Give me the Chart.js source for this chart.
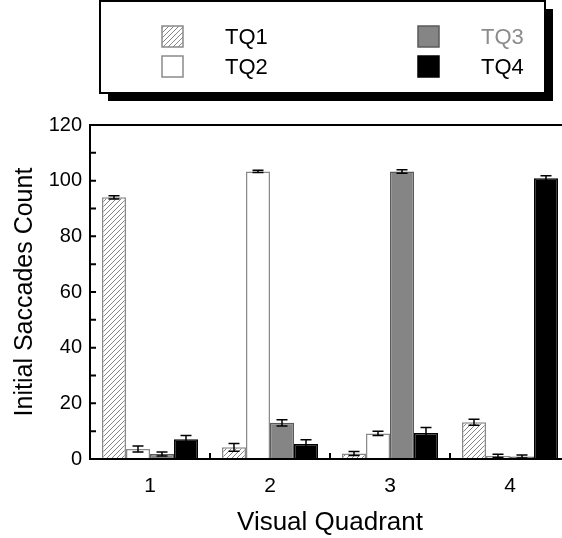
<!DOCTYPE html>
<html>
<head>
<meta charset="utf-8">
<script src="https://cdn.jsdelivr.net/npm/chart.js@4.4.1/dist/chart.umd.min.js"></script>
<style>
html, body { margin: 0; padding: 0; overflow: hidden; background: #fff; }
#wrap { width: 580px; height: 538px; }
</style>
</head>
<body>
<div id="wrap"><canvas id="chart"></canvas></div>
<script>
// data
const quadrants = ['1', '2', '3', '4'];
const seriesNames = ['TQ1', 'TQ2', 'TQ3', 'TQ4'];
const tq1 = [94.0, 4.2, 2.0, 13.2];
const tq2 = [3.6, 103.3, 9.2, 1.1];
const tq3 = [1.8, 13.0, 103.3, 0.9];
const tq4 = [7.1, 5.4, 9.3, 100.9];
const tq1Err = [0.6, 1.4, 0.7, 1.1];
const tq2Err = [1.1, 0.4, 0.8, 0.6];
const tq3Err = [0.7, 1.1, 0.6, 0.5];
const tq4Err = [1.3, 1.5, 2.0, 0.9];
const yMin = 0, yMax = 120, yStep = 10, yLabelStep = 20;

const FONT = "'Liberation Sans', Arial, Helvetica, sans-serif";
Chart.defaults.font.family = FONT;
Chart.defaults.color = '#000';

function hatch() {
    const c = document.createElement('canvas');
    c.width = 5; c.height = 5;
    const g = c.getContext('2d');
    g.fillStyle = '#fff';
    g.fillRect(0, 0, 5, 5);
    g.strokeStyle = '#777';
    g.lineWidth = 0.9;
    g.beginPath();
    g.moveTo(-1, 6); g.lineTo(6, -1);
    g.moveTo(-1, 1); g.lineTo(1, -1);
    g.moveTo(4, 6); g.lineTo(6, 4);
    g.stroke();
    return g.createPattern(c, 'repeat');
}

const fills = [hatch(), '#ffffff', '#858585', '#000000'];
const borders = ['#8a8a8a', '#8a8a8a', '#5a5a5a', '#000000'];
const legendText = ['#000', '#000', '#8c8c8c', '#000'];
const values = [tq1, tq2, tq3, tq4];
const errors = [tq1Err, tq2Err, tq3Err, tq4Err];

// error bars on top of each bar
const errorBars = {
    id: 'errorBars',
    afterDatasetsDraw(chart) {
        const ctx = chart.ctx;
        const y = chart.scales.y;
        ctx.save();
        ctx.strokeStyle = '#000';
        ctx.lineWidth = 1.5;
        chart.data.datasets.forEach((ds, i) => {
            const meta = chart.getDatasetMeta(i);
            meta.data.forEach((bar, j) => {
                const v = ds.data[j], e = errors[i][j];
                const top = y.getPixelForValue(v + e);
                const bot = y.getPixelForValue(Math.max(0, v - e));
                ctx.beginPath();
                ctx.moveTo(bar.x, top); ctx.lineTo(bar.x, bot);
                ctx.moveTo(bar.x - 5.5, top); ctx.lineTo(bar.x + 5.5, top);
                ctx.moveTo(bar.x - 5.5, bot); ctx.lineTo(bar.x + 5.5, bot);
                ctx.stroke();
            });
        });
        ctx.restore();
    }
};

// frame and inward ticks
const frame = {
    id: 'frame',
    afterDraw(chart) {
        const ctx = chart.ctx;
        const a = chart.chartArea;
        const x = chart.scales.x, y = chart.scales.y;
        ctx.save();
        ctx.strokeStyle = '#000';
        ctx.lineWidth = 2;
        ctx.beginPath();
        ctx.rect(a.left, a.top, a.right - a.left, a.bottom - a.top);
        ctx.stroke();
        ctx.beginPath();
        y.ticks.forEach(t => {
            const py = y.getPixelForValue(t.value);
            ctx.moveTo(a.left, py); ctx.lineTo(a.left + 6, py);
        });
        for (let i = 0; i < quadrants.length - 1; i++) {
            const px = (x.getPixelForValue(i) + x.getPixelForValue(i + 1)) / 2;
            ctx.moveTo(px, a.bottom); ctx.lineTo(px, a.bottom - 6);
        }
        ctx.stroke();
        ctx.restore();
    }
};

// boxed legend with drop shadow
const legendBox = {
    id: 'legendBox',
    afterDraw(chart) {
        const ctx = chart.ctx;
        ctx.save();
        ctx.fillStyle = '#000';
        ctx.fillRect(108, 9, 445, 92);
        ctx.fillStyle = '#fff';
        ctx.fillRect(100, 1, 445, 92);
        ctx.strokeStyle = '#000';
        ctx.lineWidth = 2;
        ctx.strokeRect(100, 1, 445, 92);
        const spots = [[162, 26], [162, 56], [418, 26], [418, 56]];
        ctx.font = '22px ' + FONT;
        ctx.textBaseline = 'middle';
        chart.data.datasets.forEach((ds, i) => {
            const [sx, sy] = spots[i];
            ctx.fillStyle = ds.backgroundColor;
            ctx.fillRect(sx, sy, 21, 21);
            ctx.strokeStyle = ds.borderColor;
            ctx.lineWidth = 1.5;
            ctx.strokeRect(sx, sy, 21, 21);
            ctx.fillStyle = legendText[i];
            ctx.fillText(ds.label, sx + 63, sy + 11.5);
        });
        ctx.restore();
    }
};

new Chart(document.getElementById('chart'), {
    type: 'bar',
    data: {
        labels: quadrants,
        datasets: seriesNames.map((name, i) => ({
            label: name,
            data: values[i],
            backgroundColor: fills[i],
            borderColor: borders[i],
            borderWidth: 1.5,
            categoryPercentage: 0.8,
            barPercentage: 1.0
        }))
    },
    options: {
        responsive: true,
        maintainAspectRatio: false,
        animation: false,
        layout: { padding: { top: 125, right: 10, left: 0, bottom: 0 } },
        plugins: { legend: { display: false }, tooltip: { enabled: false } },
        scales: {
            x: {
                grid: { display: false, drawTicks: false },
                border: { display: false },
                ticks: { font: { size: 21 }, padding: 15, color: '#000' },
                title: { display: true, text: 'Visual Quadrant', font: { size: 26, lineHeight: 1.2 }, padding: { top: 0, bottom: 0 }, color: '#000' },
                afterFit: s => { s.height = 79; }
            },
            y: {
                min: yMin,
                max: yMax,
                grid: { display: false, drawTicks: false },
                border: { display: false },
                ticks: {
                    stepSize: yStep,
                    font: { size: 20 },
                    padding: 8,
                    color: '#000',
                    callback: v => (v % yLabelStep === 0 ? v : '')
                },
                title: { display: true, text: 'Initial Saccades Count', font: { size: 25, lineHeight: 1.2 }, padding: { top: 10, bottom: 0 }, color: '#000' },
                afterFit: s => { s.width = 90; }
            }
        }
    },
    plugins: [errorBars, frame, legendBox]
});
</script>
</body>
</html>
